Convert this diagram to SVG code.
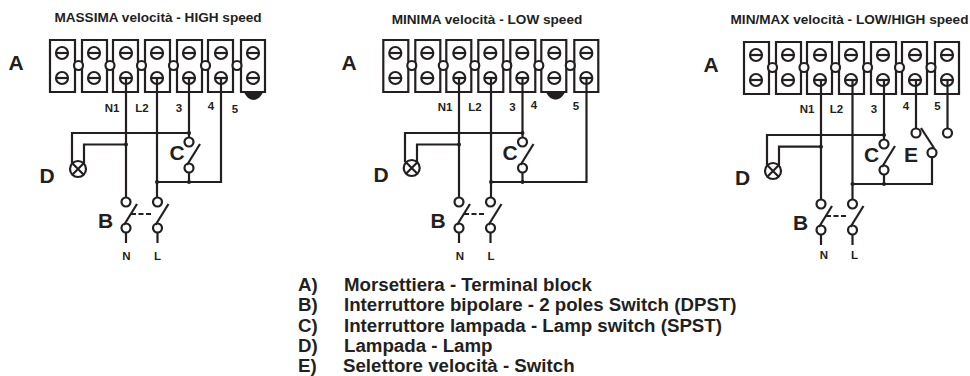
<svg xmlns="http://www.w3.org/2000/svg" width="970" height="376" viewBox="0 0 970 376">
<style>
text{font-family:"Liberation Sans",Arial,sans-serif;font-weight:700;fill:#231f20}
.t{font-size:13.6px;text-anchor:middle}
.n{font-size:11.5px;text-anchor:middle}
.b{font-size:21px;text-anchor:middle}
.l{font-size:18.7px}
.w{fill:none;stroke:#231f20;stroke-width:2.200}
.d{fill:none;stroke:#231f20;stroke-width:2;stroke-dasharray:5 2.500}
.o{fill:#fff;stroke:#231f20;stroke-width:2.200}
.k{fill:#231f20}
</style>
<defs>
<g id="screw"><circle class="o" r="6"/><path class="w" d="M-6 0H6"/></g>
<g id="block">
<path class="o" d="M50 40H75V65H82V40H107V65H113V40H138V65H145V40H170V65H177V40H202V65H208V40H233V65H241V40H265V92H241V66H233V92H208V66H202V92H177V66H170V92H145V66H138V92H113V66H107V92H82V66H75V92H50Z"/>
<use href="#screw" x="62" y="53"/><use href="#screw" x="94" y="53"/><use href="#screw" x="126" y="53"/><use href="#screw" x="157" y="53"/><use href="#screw" x="189" y="53"/><use href="#screw" x="221" y="53"/><use href="#screw" x="253" y="53"/>
<use href="#screw" x="62" y="78"/><use href="#screw" x="94" y="78"/><use href="#screw" x="126" y="78"/><use href="#screw" x="157" y="78"/><use href="#screw" x="189" y="78"/><use href="#screw" x="221" y="78"/><use href="#screw" x="253" y="78"/>
<circle class="o" cx="78.500" cy="65.500" r="4.500"/><circle class="o" cx="110" cy="65.500" r="4.500"/><circle class="o" cx="141.500" cy="65.500" r="4.500"/><circle class="o" cx="173.500" cy="65.500" r="4.500"/><circle class="o" cx="205.500" cy="65.500" r="4.500"/><circle class="o" cx="237" cy="65.500" r="4.500"/>
</g>
<g id="lamp"><circle class="o" r="8"/><path class="w" d="M-5.700 -5.700L5.700 5.700M-5.700 5.700L5.700 -5.700"/></g>
<g id="sw"><circle class="o" cx="0" cy="0" r="4.500"/><circle class="o" cx="0" cy="26" r="4.500"/><path class="w" d="M-2 23L11 2"/></g>
<g id="bsw"><use href="#sw"/><use href="#sw" x="31.500"/><path class="d" d="M5 12H27"/><path class="w" d="M0 30V41M31.500 30V41"/></g>
</defs>

<g id="connectors">
<g id="wires-1">
<path class="w" d="M126 78V198M157 78V198M189 78V138M221 78V182H157M72 163V133H189M84 163V144.500H126"/>
<circle class="k" cx="126" cy="144.500" r="2"/><circle class="k" cx="189" cy="133" r="2"/><circle class="k" cx="157" cy="182" r="2"/><circle class="k" cx="189" cy="182" r="2"/><path class="w" d="M189 173V182"/>
</g>
<g id="wires-2">
<path class="w" d="M459 78V198M491 78V198M522.500 78V138M586.500 78V182H491M405 162V133H522.500M417 162V144.500H459"/>
<circle class="k" cx="459" cy="144.500" r="2"/><circle class="k" cx="522.500" cy="133" r="2"/><circle class="k" cx="491" cy="182" r="2"/><circle class="k" cx="522.500" cy="182" r="2"/><path class="w" d="M522.500 173V182"/>
</g>
<g id="wires-3">
<path class="w" d="M821 80V200M852.500 80V200M884 80V140M916 80V129M947.500 80V129M932 157V184H852.500M767 165V135H884M779 165V146.700H821"/>
<circle class="k" cx="821" cy="146.700" r="2"/><circle class="k" cx="884" cy="135" r="2"/><circle class="k" cx="852.500" cy="184" r="2"/><circle class="k" cx="884" cy="184" r="2"/><path class="w" d="M884 175V184"/>
</g>
</g>

<g id="panel-1">
<text class="t" x="158" y="21.500">MASSIMA velocità - HIGH speed</text>
<g id="A1"><path class="k" d="M244 92H263C261 97 257 100 253.500 100C250 100 246 97 244 92Z"/><use href="#block"/><path class="w" d="M126 78V92M157 78V92M189 78V92M221 78V92"/><text class="b" x="16" y="69.500">A</text></g>
<g id="pins1"><text class="n" x="112" y="112">N1</text><text class="n" x="142" y="112">L2</text><text class="n" x="179" y="112">3</text><text class="n" x="211" y="110">4</text><text class="n" x="235" y="113">5</text></g>
<g id="B1"><use href="#bsw" x="126" y="202"/><text class="b" x="105.500" y="227.500">B</text><text class="n" x="126.500" y="260">N</text><text class="n" x="157.500" y="260">L</text></g>
<g id="C1"><use href="#sw" x="189" y="142"/><text class="b" x="177" y="160">C</text></g>
<g id="D1"><use href="#lamp" x="78" y="169"/><text class="b" x="47" y="182.500">D</text></g>
</g>

<g id="panel-2">
<text class="t" x="487" y="24">MINIMA velocità - LOW speed</text>
<g id="A2"><path class="k" d="M546 92H565C563 97 559 99.500 555.500 99.500C552 99.500 548 97 546 92Z"/><use href="#block" x="333.300"/><path class="w" d="M459 78V92M491 78V92M522.500 78V92M586.500 78V92"/><text class="b" x="349" y="70">A</text></g>
<g id="pins2"><text class="n" x="445" y="110.500">N1</text><text class="n" x="475" y="110.500">L2</text><text class="n" x="512.500" y="110.500">3</text><text class="n" x="534" y="109">4</text><text class="n" x="576" y="110">5</text></g>
<g id="B2"><use href="#bsw" x="459" y="202"/><text class="b" x="438" y="227.500">B</text><text class="n" x="460" y="260">N</text><text class="n" x="491" y="260">L</text></g>
<g id="C2"><use href="#sw" x="522.500" y="142"/><text class="b" x="510" y="160">C</text></g>
<g id="D2"><use href="#lamp" x="411.700" y="168"/><text class="b" x="381" y="182">D</text></g>
</g>

<g id="panel-3">
<text class="t" x="849.500" y="24">MIN/MAX velocità - LOW/HIGH speed</text>
<g id="A3"><use href="#block" x="694" y="2"/><path class="w" d="M821 80V94M852.500 80V94M884 80V94M916 80V94M947.500 80V94"/><text class="b" x="711" y="72">A</text></g>
<g id="pins3"><text class="n" x="807" y="112.500">N1</text><text class="n" x="836.500" y="112.500">L2</text><text class="n" x="874" y="112.500">3</text><text class="n" x="906" y="110">4</text><text class="n" x="937.500" y="110">5</text></g>
<g id="B3"><use href="#bsw" x="821" y="204"/><text class="b" x="800.500" y="229.500">B</text><text class="n" x="824" y="259">N</text><text class="n" x="854.500" y="259">L</text></g>
<g id="C3"><use href="#sw" x="884" y="144"/><text class="b" x="871.500" y="162">C</text></g>
<g id="D3"><use href="#lamp" x="773" y="171"/><text class="b" x="742.500" y="184.500">D</text></g>
<g id="E3"><circle class="o" cx="916" cy="133" r="4.500"/><circle class="o" cx="947.500" cy="133" r="4.500"/><circle class="o" cx="932" cy="152.700" r="4.500"/><path class="w" d="M921 128L934 148"/><text class="b" x="911" y="162">E</text></g>
</g>

<g id="legend" class="l">
<text x="298" y="291">A)</text><text x="344" y="291">Morsettiera - Terminal block</text>
<text x="298" y="311.300">B)</text><text x="344" y="311.300">Interruttore bipolare - 2 poles Switch (DPST)</text>
<text x="298" y="331.500">C)</text><text x="344" y="331.500">Interruttore lampada - Lamp switch (SPST)</text>
<text x="298" y="351.800">D)</text><text x="344" y="351.800">Lampada - Lamp</text>
<text x="298" y="372">E)</text><text x="343" y="372">Selettore velocità - Switch</text>
</g>
</svg>
